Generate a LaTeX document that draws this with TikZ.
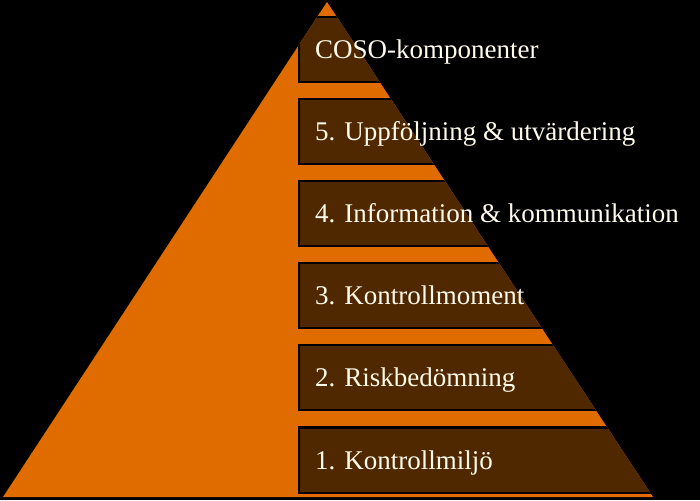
\documentclass[tikz,border=0pt]{standalone}
\usepackage{fontspec}
\setmainfont{Liberation Serif}
\definecolor{pyrorange}{RGB}{224,108,0}
\definecolor{pyrbrown}{RGB}{80,40,0}
\definecolor{pyrtext}{RGB}{255,250,235}
\tikzset{
  layer/.style={draw=black, line width=2pt, fill=pyrbrown, anchor=west,
    minimum width=420pt, minimum height=65pt, inner sep=0pt},
  layertext/.style={anchor=base west, text=pyrtext, inner sep=0pt,
    font=\fontsize{27}{30}\selectfont}
}
\begin{document}
\begin{tikzpicture}[x=1pt,y=1pt]
\fill[black] (0,0) rectangle (700,500);
\useasboundingbox (0,0) rectangle (700,500);
\coordinate (apex) at (327,498);
\coordinate (baseL) at (3,3);
\coordinate (baseR) at (653,3);
\fill[pyrorange] (baseL) -- (baseR) -- (apex) -- cycle;
\begin{scope}
\clip (baseL) -- (baseR) -- (apex) -- cycle;
\node[layer] (coso) at (298,450) {};
\node[layer] (upp) at (298,368) {};
\node[layer] (info) at (298,286) {};
\node[layer] (kmom) at (298,204) {};
\node[layer] (risk) at (298,122) {};
\node[layer] (kmil) at (298,40) {};
\end{scope}
\node[layertext] (cosoT) at ([xshift=17pt,yshift=-9pt]coso.west) {COSO-komponenter};
\node[layertext] (uppT) at ([xshift=17pt,yshift=-9pt]upp.west) {5. Uppföljning \& utvärdering};
\node[layertext] (infoT) at ([xshift=17pt,yshift=-9pt]info.west) {4. Information \& kommunikation};
\node[layertext] (kmomT) at ([xshift=17pt,yshift=-9pt]kmom.west) {3. Kontrollmoment};
\node[layertext] (riskT) at ([xshift=17pt,yshift=-9pt]risk.west) {2. Riskbedömning};
\node[layertext] (kmilT) at ([xshift=17pt,yshift=-9pt]kmil.west) {1. Kontrollmiljö};
\end{tikzpicture}
\end{document}
